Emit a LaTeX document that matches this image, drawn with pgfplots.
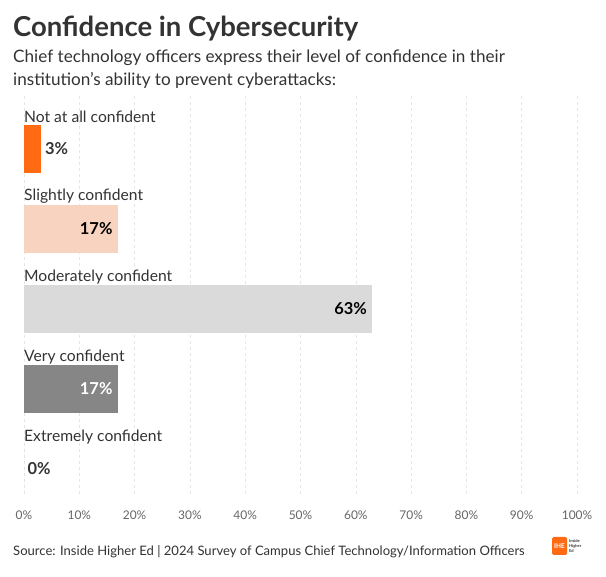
\documentclass[border=0pt]{standalone}
\usepackage{pgfplots}
\pgfplotsset{compat=1.18}
\usepackage{fontspec}
\setmainfont{Lato}
\definecolor{txt}{HTML}{333333}
\definecolor{tick}{HTML}{666666}
\definecolor{c1}{HTML}{FF6A13}
\definecolor{c2}{HTML}{F8D3BF}
\definecolor{c3}{HTML}{DADADA}
\definecolor{c4}{HTML}{868686}
\definecolor{gridc}{HTML}{E6E6E6}
\begin{document}
\begin{tikzpicture}[x=1bp,y=1bp]
\path[fill=white] (0,0) rectangle (606,577);
\node[anchor=base west, inner sep=0, text=txt, font=\fontsize{27.6}{30}\selectfont\bfseries] at (13,540) {Confidence in Cybersecurity};
\node[anchor=base west, inner sep=0, text=txt, font=\fontsize{17.2}{20}\selectfont] at (13,514) {Chief technology officers express their level of confidence in their};
\node[anchor=base west, inner sep=0, text=txt, font=\fontsize{17.2}{20}\selectfont] at (13,491) {institution’s ability to prevent cyberattacks:};
\node[anchor=base west, inner sep=0, text=txt, font=\fontsize{13.1}{15}\selectfont] at (13,21) {Source: Inside Higher Ed | 2024 Survey of Campus Chief Technology/Information Officers};
\fill[c1, rounded corners=1.5bp] (552,22) rectangle (567,40);
\node[text=white, font=\fontsize{6.5}{7}\selectfont\bfseries, inner sep=0] at (559.5,31) {IHE};
\node[anchor=west, align=left, text=txt, inner sep=0, font=\fontsize{4}{4.6}\selectfont\bfseries] at (569,31) {Inside\\Higher\\Ed};
\begin{axis}[
  at={(24bp,82bp)}, anchor=south west,
  scale only axis, width=553bp, height=399bp,
  xbar, bar shift=0pt, bar width=0.59,
  xmin=0, xmax=100,
  ymin=-0.6625, ymax=4.325, y dir=reverse,
  axis line style={draw=none},
  major tick length=0pt,
  ytick=\empty,
  xtick={0,10,...,100},
  xticklabel={\pgfmathprintnumber{\tick}\%},
  xticklabel style={text=tick, font=\fontsize{12}{14}\selectfont, yshift=-12bp},
  /pgf/number format/assume math mode=true,
  xmajorgrids, grid style={gridc, dashed, line width=0.6pt},
  clip=false,
  nodes near coords={\pgfmathprintnumber{\pgfplotspointmeta}\%},
  point meta=x,
  every node near coord/.append style={font=\fontsize{16.5}{18}\selectfont\bfseries},
]
\addplot[fill=c1, draw=none, every node near coord/.append style={anchor=west, text=txt, xshift=1bp}] coordinates {(3,0)};
\addplot[fill=c2, draw=none, every node near coord/.append style={anchor=east, text=black, xshift=-2bp}] coordinates {(17,1)};
\addplot[fill=c3, draw=none, every node near coord/.append style={anchor=east, text=black, xshift=-2bp}] coordinates {(63,2)};
\addplot[fill=c4, draw=none, every node near coord/.append style={anchor=east, text=white, xshift=-2bp}] coordinates {(17,3)};
\addplot[fill=c3, draw=none, every node near coord/.append style={anchor=west, text=txt, xshift=0bp}] coordinates {(0,4)};
\node[anchor=west, inner sep=0, text=txt, font=\fontsize{15.7}{18}\selectfont] at (axis cs:0,-0.405) {Not at all confident};
\node[anchor=west, inner sep=0, text=txt, font=\fontsize{15.7}{18}\selectfont] at (axis cs:0,0.595) {Slightly confident};
\node[anchor=west, inner sep=0, text=txt, font=\fontsize{15.7}{18}\selectfont] at (axis cs:0,1.595) {Moderately confident};
\node[anchor=west, inner sep=0, text=txt, font=\fontsize{15.7}{18}\selectfont] at (axis cs:0,2.595) {Very confident};
\node[anchor=west, inner sep=0, text=txt, font=\fontsize{15.7}{18}\selectfont] at (axis cs:0,3.595) {Extremely confident};
\end{axis}
\end{tikzpicture}
\end{document}
